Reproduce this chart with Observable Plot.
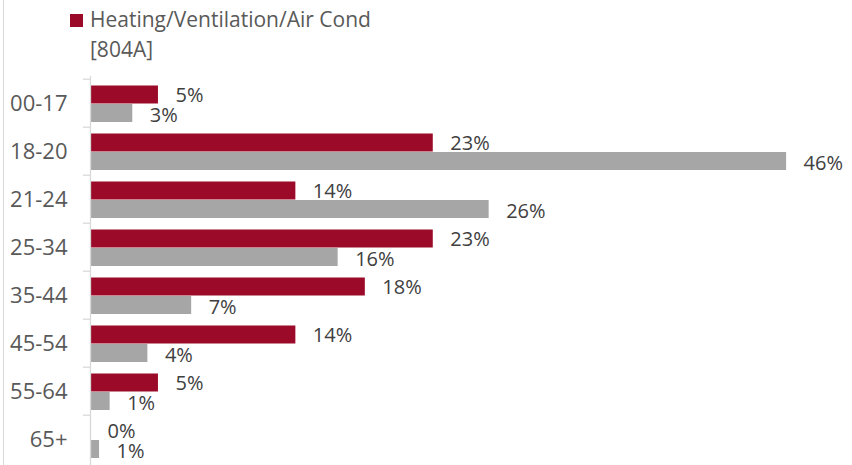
<!DOCTYPE html>
<html>
<head>
<meta charset="utf-8">
<script src="https://cdn.jsdelivr.net/npm/d3@7"></script>
<script src="https://cdn.jsdelivr.net/npm/@observablehq/plot@0.6"></script>
<style>
  html, body { margin: 0; padding: 0; background: #fff; }
  #wrap { position: relative; width: 852px; height: 465px; overflow: hidden; font-family: "Open Sans", sans-serif; }
  #border { position: absolute; left: 3px; top: 0; width: 1px; height: 465px; background: #d9d9d9; }
  #legend { position: relative; height: 60px; }
  #legend .sw { position: absolute; left: 70px; top: 14px; width: 13px; height: 13px; background: #9b0a28; }
  #legend .t { position: absolute; left: 90px; top: 4px; font-size: 21px; line-height: 30px; color: #595959; white-space: nowrap; }
</style>
</head>
<body>
<div id="wrap">
  <div id="border"></div>
  <div id="legend"><div class="sw"></div><div class="t">Heating/Ventilation/Air Cond<br>[804A]</div></div>
  <div id="chart"></div>
</div>
<script>
const categories = ["00-17", "18-20", "21-24", "25-34", "35-44", "45-54", "55-64", "65+"];
const hvacValues = [4.5, 22.7, 13.6, 22.7, 18.2, 13.6, 4.5, 0];
const otherValues = [2.8, 46.1, 26.4, 16.4, 6.7, 3.8, 1.3, 0.6];
const seriesColors = ["#9b0a28", "#a6a6a6"];

const red = categories.map((c, i) => ({cat: c, value: hvacValues[i]}));
const grey = categories.map((c, i) => ({cat: c, value: otherValues[i]}));
const fmt = d => Math.round(d.value) + "%";

const H = 405, MT = 16, MB = 0;
const step = (H - MT - MB) / categories.length;

const chart = Plot.plot({
  width: 852,
  height: H,
  marginLeft: 90,
  marginRight: 7,
  marginTop: MT,
  marginBottom: MB,
  style: {fontFamily: "'Open Sans', sans-serif", background: "transparent"},
  x: {domain: [0, 50], axis: null},
  y: {domain: categories, padding: 0, label: null},
  marks: [
    Plot.barX(red, {x: "value", y: "cat", fill: seriesColors[0], insetTop: 6.5, insetBottom: 23.5}),
    Plot.barX(grey, {x: "value", y: "cat", fill: seriesColors[1], insetTop: 25, insetBottom: 5}),
    Plot.ruleX([0], {stroke: "#d9d9d9", strokeWidth: 1.3}),
    Plot.ruleY(categories, {y: d => d, x1: -0.47, x2: 0, dy: -step / 2, stroke: "#d9d9d9", strokeWidth: 1.3}),
    Plot.axisY({tickSize: 0, tickPadding: 23, fontSize: 22, color: "#595959", label: null}),
    Plot.text(red, {x: "value", y: "cat", text: fmt, dx: 17, dy: -7.5, textAnchor: "start", fontSize: 20, fill: "#404040"}),
    Plot.text(grey, {x: "value", y: "cat", text: fmt, dx: 17, dy: 12, textAnchor: "start", fontSize: 20, fill: "#404040"})
  ]
});
document.getElementById("chart").appendChild(chart);
</script>
</body>
</html>
